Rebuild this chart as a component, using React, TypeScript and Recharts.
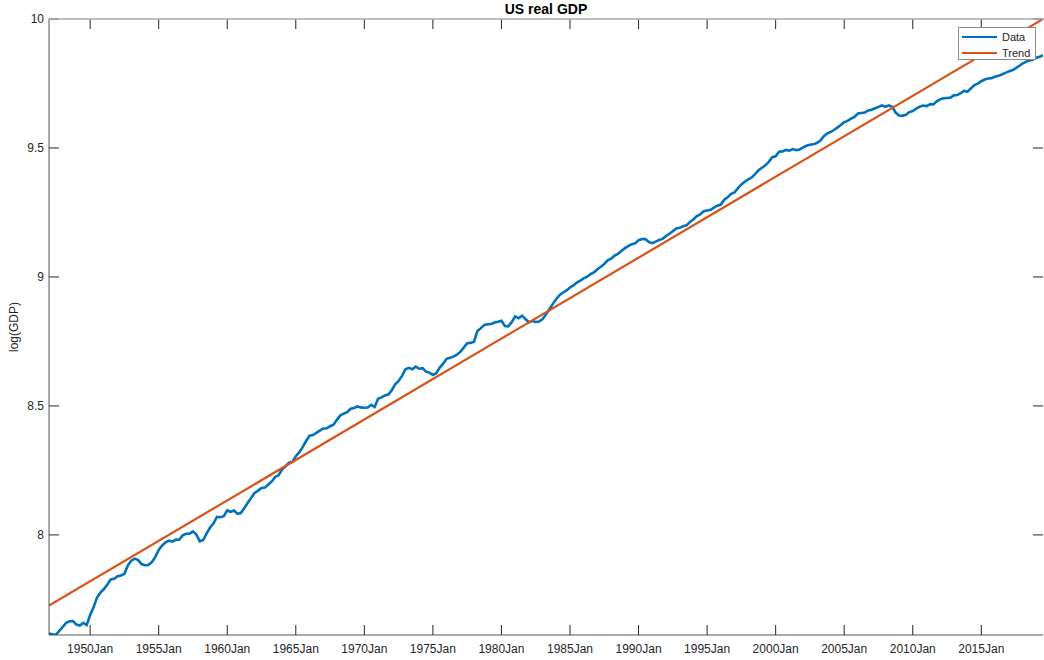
import { LineChart, Line, XAxis, YAxis, Legend } from "recharts";

const startYear = 1947;
const gdp1940s = [
  2033.1, 2027.6, 2023.5, 2055.1, 2086.0, 2120.4, 2132.6, 2135.0, 2105.6, 2098.4, 2120.0, 2102.2,
];
const gdp1950s = [
  2184.9, 2251.5, 2338.5, 2383.2, 2415.7, 2457.5, 2508.2, 2513.7, 2540.6, 2546.0, 2564.4, 2648.6,
  2697.9, 2718.7, 2703.4, 2662.5, 2649.8, 2652.6, 2682.6, 2735.1, 2813.2, 2859.0, 2897.6, 2915.0,
  2903.7, 2927.7, 2925.9, 2975.6, 2994.6, 2995.1, 3022.0, 2985.6, 2908.1, 2922.5, 2999.0, 3067.7,
  3118.3, 3197.5, 3191.8, 3206.0,
];
const gdp1960s = [
  3277.6, 3260.2, 3276.2, 3234.1, 3247.7, 3308.9, 3376.6, 3444.5, 3506.6, 3539.5, 3575.1, 3581.2,
  3624.8, 3667.6, 3732.5, 3760.0, 3841.9, 3889.1, 3942.8, 3955.6, 4043.9, 4103.4, 4188.5, 4289.7,
  4378.3, 4390.3, 4427.3, 4466.3, 4503.0, 4507.4, 4542.4, 4570.2, 4656.4, 4738.0, 4771.1, 4796.1,
  4862.0, 4876.9, 4905.1, 4887.3,
];
const gdp1970s = [
  4880.4, 4886.5, 4936.6, 4892.1, 5052.7, 5081.1, 5119.2, 5135.0, 5223.5, 5346.5, 5413.8, 5521.5,
  5666.4, 5696.3, 5667.1, 5724.5, 5676.8, 5689.4, 5613.5, 5591.1, 5543.4, 5581.1, 5701.3, 5789.8,
  5900.0, 5925.0, 5950.0, 5995.0, 6060.0, 6160.0, 6265.0, 6275.0, 6305.0, 6570.0, 6645.0, 6725.0,
  6745.0, 6750.0, 6790.0, 6810.0,
];
const gdp1980s = [
  6835.0, 6700.0, 6690.0, 6800.0, 6955.0, 6905.0, 6975.0, 6885.0, 6800.0, 6830.0, 6805.0, 6815.0,
  6880.0, 7010.0, 7150.0, 7300.0, 7440.0, 7560.0, 7630.0, 7690.0, 7780.0, 7840.0, 7930.0, 7990.0,
  8060.0, 8110.0, 8190.0, 8250.0, 8350.0, 8430.0, 8520.0, 8640.0, 8700.0, 8800.0, 8860.0, 8960.0,
  9060.0, 9130.0, 9200.0, 9230.0,
];
const gdp1990s = [
  9342.4, 9385.0, 9384.4, 9277.0, 9236.6, 9291.4, 9348.4, 9392.2, 9491.8, 9578.8, 9673.2, 9780.7,
  9802.4, 9863.6, 9899.3, 10029.4, 10125.7, 10262.3, 10327.0, 10456.5, 10485.7, 10511.5, 10604.2, 10680.7,
  10726.4, 10933.8, 11034.9, 11183.1, 11241.4, 11437.0, 11597.1, 11723.0, 11824.8, 11913.0, 12068.7, 12253.6,
  12372.4, 12489.3, 12659.9, 12890.6,
];
const gdp2000s = [
  12935.3, 13170.7, 13183.9, 13262.3, 13219.3, 13301.4, 13248.1, 13284.9, 13394.9, 13477.4, 13531.7, 13549.4,
  13619.4, 13741.1, 13970.2, 14131.4, 14212.3, 14323.0, 14457.8, 14605.6, 14767.8, 14839.8, 14972.1, 15066.6,
  15267.0, 15302.7, 15326.4, 15456.9, 15493.3, 15582.1, 15666.7, 15762.0, 15671.4, 15752.3, 15667.0, 15328.0,
  15155.9, 15134.1, 15189.2, 15356.1,
];
const gdp2010s = [
  15415.1, 15557.3, 15672.0, 15750.6, 15712.8, 15825.1, 15820.7, 16004.1, 16129.4, 16198.8, 16220.7, 16239.1,
  16383.0, 16403.2, 16531.7, 16663.6, 16616.5, 16841.5, 17047.1, 17143.0, 17305.8, 17422.8, 17486.9, 17514.1,
  17613.3, 17668.2, 17764.0, 17876.2, 17977.3, 18054.1, 18185.6, 18359.4, 18530.5, 18654.4, 18752.4, 18813.9,
  18950.3, 19020.6, 19141.7,
];

// linear trend of log(GDP), start and end of the fitted line
const trendYears = [1947, 2019.5];
const trendValues = [7.726, 10.0];

const xTicks = [1950, 1955, 1960, 1965, 1970, 1975, 1980, 1985, 1990, 1995, 2000, 2005, 2010, 2015];
const yTicks = [8, 8.5, 9, 9.5, 10];

const gdpAll = [
  ...gdp1940s, ...gdp1950s, ...gdp1960s, ...gdp1970s,
  ...gdp1980s, ...gdp1990s, ...gdp2000s, ...gdp2010s,
];
const series = gdpAll.map((g, i) => ({ t: startYear + i / 4, v: Math.log(g) }));
const trend = trendYears.map((t, i) => ({ t, v: trendValues[i] }));

const FONT = '"Liberation Sans", Arial, Helvetica, sans-serif';
const INK = "#262626";
const PLOT = { left: 49, right: 1043, top: 19, bottom: 635 };

function XTick({ x, payload }: any) {
  return (
    <g>
      <line x1={x} x2={x} y1={PLOT.bottom} y2={PLOT.bottom - 10} stroke={INK} strokeWidth={1} />
      <line x1={x} x2={x} y1={PLOT.top} y2={PLOT.top + 10} stroke={INK} strokeWidth={1} />
      <text x={x} y={653} textAnchor="middle" fill={INK} fontSize={12} fontFamily={FONT}>
        {payload.value}Jan
      </text>
    </g>
  );
}

function YTick({ y, payload }: any) {
  return (
    <g>
      <line x1={PLOT.left} x2={PLOT.left + 10} y1={y} y2={y} stroke={INK} strokeWidth={1} />
      <line x1={PLOT.right - 10} x2={PLOT.right} y1={y} y2={y} stroke={INK} strokeWidth={1} />
      <text x={44} y={y + 4} textAnchor="end" fill={INK} fontSize={12} fontFamily={FONT}>
        {payload.value}
      </text>
    </g>
  );
}

function LegendBox({ payload }: any) {
  return (
    <div
      style={{
        width: 76,
        height: 31,
        border: "1px solid #8c8c8c",
        background: "#fff",
        fontFamily: FONT,
        fontSize: 11,
        color: INK,
        boxSizing: "content-box",
      }}
    >
      {(payload || []).map((p: any) => (
        <div key={p.value} style={{ display: "flex", alignItems: "center", height: 15, marginTop: 1 }}>
          <div style={{ width: 35, height: 0, borderTop: `2.5px solid ${p.color}`, marginLeft: 3, marginRight: 5 }} />
          <span>{p.value}</span>
        </div>
      ))}
    </div>
  );
}

export default function App() {
  return (
    <div style={{ position: "absolute", left: 0, top: 0, width: 1044, height: 660, background: "#fff", fontFamily: FONT }}>
      <LineChart
        width={1044}
        height={660}
        data={series}
        margin={{ top: PLOT.top, right: 1044 - PLOT.right, bottom: 0, left: 0 }}
      >
        <XAxis
          dataKey="t"
          type="number"
          domain={[1947, 2019.5]}
          ticks={xTicks}
          allowDataOverflow
          height={25}
          tickLine={false}
          axisLine={{ stroke: "#555" }}
          tick={<XTick />}
          interval={0}
        />
        <YAxis
          type="number"
          domain={[7.612, 10]}
          ticks={yTicks}
          allowDataOverflow
          width={49}
          tickLine={false}
          axisLine={{ stroke: "#555" }}
          tick={<YTick />}
          interval={0}
        />
        <Legend
          layout="horizontal"
          verticalAlign="middle"
          align="center"
          content={<LegendBox />}
          wrapperStyle={{ position: "absolute", left: 958, top: 27, width: 78, height: 33 }}
        />
        <Line
          name="Data"
          dataKey="v"
          stroke="#0072BD"
          strokeWidth={2.6}
          dot={false}
          activeDot={false}
          isAnimationActive={false}
        />
        <Line
          name="Trend"
          data={trend}
          dataKey="v"
          stroke="#D95319"
          strokeWidth={2.2}
          dot={false}
          activeDot={false}
          isAnimationActive={false}
        />
      </LineChart>
      <svg
        width={1044}
        height={660}
        style={{ position: "absolute", left: 0, top: 0, pointerEvents: "none" }}
      >
        <line x1={PLOT.left} x2={1044} y1={PLOT.top} y2={PLOT.top} stroke="#a8a8a8" strokeWidth={1.5} />
        <text x={546} y={14} textAnchor="middle" fontSize={14} fontWeight="bold" fill="#000" fontFamily={FONT}>
          US real GDP
        </text>
        <text
          x={18}
          y={327}
          textAnchor="middle"
          fontSize={12}
          fill={INK}
          fontFamily={FONT}
          transform="rotate(-90 18 327)"
        >
          log(GDP)
        </text>
      </svg>
    </div>
  );
}
